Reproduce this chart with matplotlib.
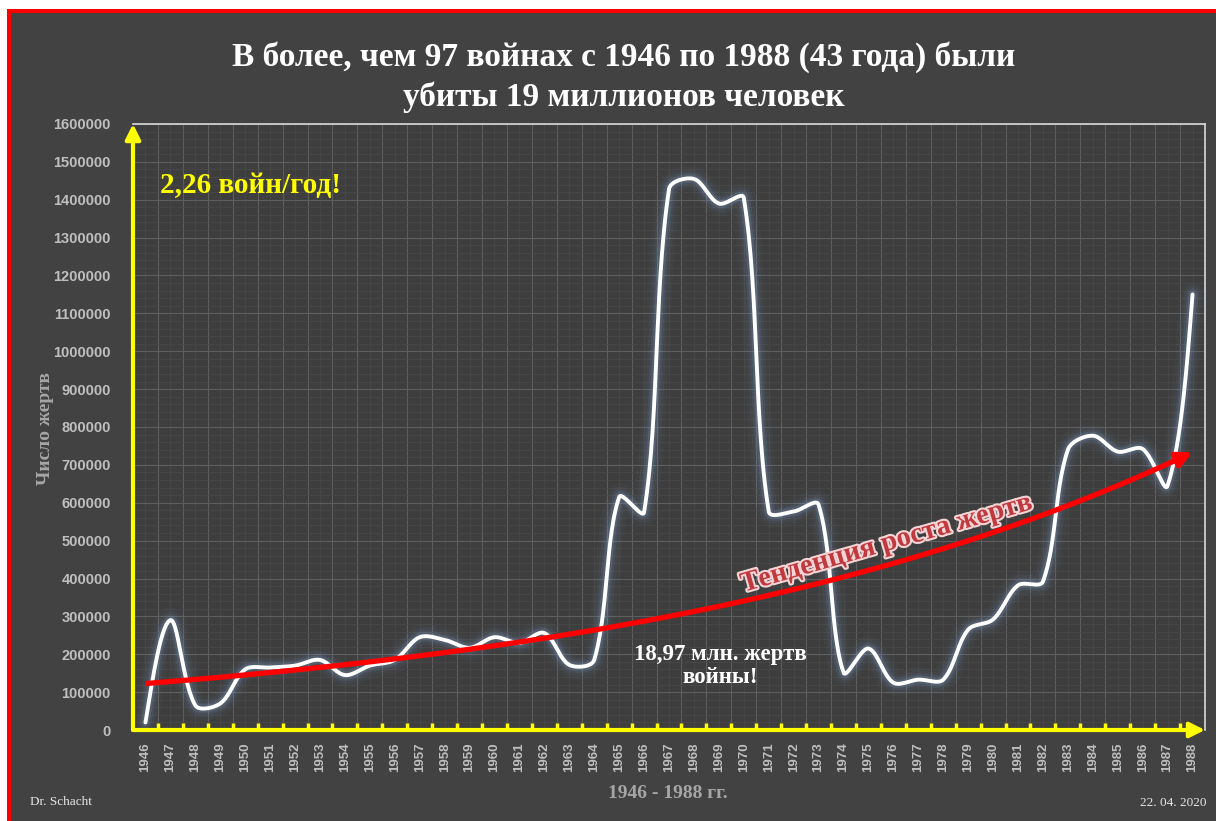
import numpy as np
import matplotlib.pyplot as plt
from matplotlib.patches import Rectangle
import matplotlib.patheffects as pe

# data
years = list(range(1946, 1989))
victims = [20000, 290000, 65000, 70000, 160000, 165000, 170000, 185000, 145000, 170000,
           185000, 245000, 238000, 217000, 245000, 230000, 256000, 172000, 185000, 615000,
           575000, 1428000, 1455000, 1390000, 1405000, 577000, 577000, 595000, 152000, 215000,
           125000, 133000, 133000, 265000, 292000, 382000, 392000, 740000, 777000, 735000,
           742000, 645000, 1150000]
y_ticks = list(range(0, 1600001, 100000))

title = "В более, чем 97 войнах с 1946 по 1988 (43 года) были\nубиты 19 миллионов человек"
serif = ['Liberation Serif', 'DejaVu Serif']
sans = ['Liberation Sans', 'DejaVu Sans']

W, H = 1216, 821
fig = plt.figure(figsize=(W / 100, H / 100), dpi=100, facecolor='white')


def fx(px):
    return px / W


def fy(py):
    return 1 - py / H


# red frame + dark background
fig.patches.append(Rectangle((fx(7), 0), 1 - fx(7), fy(9), transform=fig.transFigure,
                             facecolor='#ff0000', edgecolor='none', zorder=-3))
fig.patches.append(Rectangle((fx(11), 0), 1 - fx(11), fy(13), transform=fig.transFigure,
                             facecolor='#424242', edgecolor='none', zorder=-2))

ax = fig.add_axes([fx(133), fy(730), fx(1205) - fx(133), fy(124) - fy(730)])
ax.set_facecolor('#3e3e3e')


# Excel-like smoothed line: cubic Bezier, tangents scaled by segment length (screen space)
def smooth(xv, yv, sxp, syp, n=30, k=0.33):
    P = np.column_stack([np.asarray(xv, float) * sxp, np.asarray(yv, float) * syp])
    m = len(P)
    cin = np.zeros_like(P)
    cout = np.zeros_like(P)
    for i in range(m):
        if i == 0 or i == m - 1:
            cin[i] = cout[i] = P[i]
            continue
        T = P[i + 1] - P[i - 1]
        d0 = np.hypot(*(P[i] - P[i - 1]))
        d1 = np.hypot(*(P[i + 1] - P[i]))
        cin[i] = P[i] - T * k * d0 / (d0 + d1)
        cout[i] = P[i] + T * k * d1 / (d0 + d1)
    cout[0] = P[0] + (cin[1] - P[0]) * 0.5
    cin[-1] = P[-1] + (cout[-2] - P[-1]) * 0.5
    t = np.linspace(0, 1, n, endpoint=False)[:, None]
    pts = []
    for i in range(m - 1):
        a, b, c, d = P[i], cout[i], cin[i + 1], P[i + 1]
        pts.append((1 - t) ** 3 * a + 3 * (1 - t) ** 2 * t * b + 3 * (1 - t) * t ** 2 * c + t ** 3 * d)
    pts.append(P[-1:])
    pts = np.vstack(pts)
    return pts[:, 0] / sxp, pts[:, 1] / syp


x = np.arange(len(years))
sx, sy = smooth(x, victims, 24.9, 605 / 1600000)

# glow
for lw, a in [(18, 0.04), (13, 0.06), (9, 0.1), (6, 0.18)]:
    ax.plot(sx, sy, color='#7fa3d0', lw=lw, alpha=a, solid_capstyle='round', zorder=3)
ax.plot(sx, sy, color='white', lw=2.8, solid_capstyle='round', zorder=4)

# exponential trend
coef = np.polyfit(x, np.log(victims), 1)
xt = np.linspace(0, 41.3, 300)
ax.plot(xt, np.exp(np.polyval(coef, xt)), color='#ff0000', lw=3.8, zorder=5, solid_capstyle='butt')
ax.annotate('', xy=(42, np.exp(np.polyval(coef, 42))),
            xytext=(41.2, np.exp(np.polyval(coef, 41.2))),
            arrowprops=dict(arrowstyle='-|>,head_length=0.9,head_width=0.45', color='#ff0000',
                            lw=3.8, shrinkA=0, shrinkB=0), zorder=5)

ax.set_xlim(-0.5, len(years) - 0.5)
ax.set_ylim(0, 1600000)

# x axis: yellow ticks between categories, labels at centres
ax.set_xticks(np.arange(0.5, len(years) - 1, 1))
ax.set_xticklabels([])
ax.set_xticks(x, minor=True)
ax.set_xticklabels([str(y) for y in years], minor=True, rotation=90,
                   fontdict=dict(family=sans, weight='bold', size=9.5, color='#bfbfbf'))
ax.tick_params(axis='x', which='major', direction='in', length=5, width=2.5, color='#ffff00')
ax.tick_params(axis='x', which='minor', length=0, pad=9)

ax.set_yticks(y_ticks)
ax.set_yticklabels([str(v) for v in y_ticks], family=sans, weight='bold', size=10.5, color='#bfbfbf')
ax.set_yticks(np.arange(0, 1600001, 20000), minor=True)
ax.tick_params(axis='y', which='both', length=0, pad=16)

ax.grid(which='major', color='#5e5e5e', lw=0.8)
ax.grid(which='minor', color='#4a4a4a', lw=0.5)
ax.set_axisbelow(True)

for s in ['left', 'bottom']:
    ax.spines[s].set_visible(False)
for s in ['top', 'right']:
    ax.spines[s].set_color('#d9d9d9')
    ax.spines[s].set_linewidth(1.2)

# yellow arrow axes
for tip in [(0, 1), (1, 0)]:
    ax.annotate('', xy=tip, xytext=(0, 0), xycoords='axes fraction',
                arrowprops=dict(arrowstyle='-|>,head_length=0.9,head_width=0.45', color='#ffff00',
                                lw=3, shrinkA=0, shrinkB=0), annotation_clip=False, zorder=6)

# texts
fig.text(fx(624), fy(77), title, ha='center', va='center', family=serif, weight='bold',
         size=24, color='white', linespacing=1.35)
fig.text(fx(45), fy(428), 'Число жертв', rotation=90, ha='center', va='center',
         family=serif, weight='bold', size=14, color='#a6a6a6')
fig.text(fx(668), fy(793), '1946 - 1988 гг.', ha='center', va='center',
         family=serif, weight='bold', size=14, color='#a6a6a6')
fig.text(fx(30), fy(802), 'Dr. Schacht', ha='left', va='center', family=serif, size=9.5, color='#e6e6e6')
fig.text(fx(1207), fy(803), '22. 04. 2020', ha='right', va='center', family=serif, size=9.5, color='#e6e6e6')
fig.text(fx(160), fy(185), '2,26 войн/год!', ha='left', va='center', family=serif, weight='bold',
         size=21, color='#ffff00')
fig.text(fx(720), fy(666), '18,97 млн. жертв\nвойны!', ha='center', va='center', family=serif,
         weight='bold', size=16.5, color='white', linespacing=1.1)
fig.text(fx(887), fy(544), 'Тенденция роста жертв', ha='center', va='center', rotation=16,
         rotation_mode='anchor', family=serif, weight='bold', size=20.5, color='#c0393f',
         path_effects=[pe.withStroke(linewidth=3, foreground='#f4d4d4')], zorder=7)

fig.savefig('out.png', dpi=100, facecolor='white')
